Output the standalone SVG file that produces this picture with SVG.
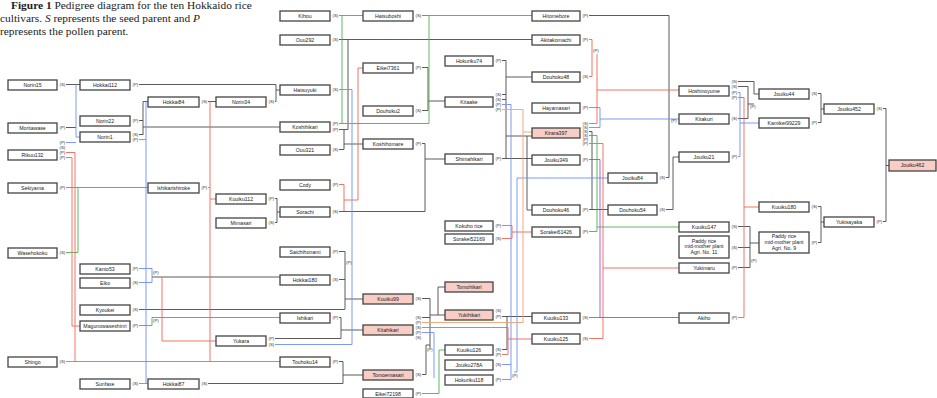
<svg xmlns="http://www.w3.org/2000/svg" width="937" height="398" viewBox="0 0 937 398">
<style>
.t{font-family:"Liberation Serif",serif;font-size:11.4px;fill:#222}
.n rect{fill:#fff;stroke:#444;stroke-width:1.3}
.n.pk rect{fill:#f7cdc5}
.n text{font-family:"Liberation Sans",Arial,sans-serif;font-size:5.2px;fill:#222;text-anchor:middle}
.n text.lb,.lb{font-family:"Liberation Sans",Arial,sans-serif;font-size:4.3px;fill:#333;text-anchor:start}
#connectors path{fill:none;stroke-width:0.9}
.g{stroke:#4a4a4a}.gr{stroke:#4cb050}.r{stroke:#ee6655}.b{stroke:#6d8ef0}.p{stroke:#9a55d5}.o{stroke:#f0a070}
</style>
<rect width="937" height="398" fill="#fff"/>
<text class="t" x="11" y="9"><tspan font-weight="bold">Figure 1</tspan> Pedigree diagram for the ten Hokkaido rice</text>
<text class="t" x="0" y="21.5">cultivars. <tspan font-style="italic">S</tspan> represents the seed parent and <tspan font-style="italic">P</tspan></text>
<text class="t" x="0" y="34.5">represents the pollen parent.</text>

<g id="connectors">
<path class="g" d="M66,84.5H80 M66,127.5H76 M139,120.5H143 M143,101.5V135 M143,101.5H148 M139,134.5H143 M143,127H280 M139,84.5H276V101.5H275 M276,90H280 M208,101.5H216 M275,198.5H277V222.5H275 M277,212H280 M339,129.5H348V39.5 M339,39.5H532 M344,129.5V149.5H339 M344,144H363 M339,211.5H425V143.5H422 M425,159H445 M422,67.5H428V110.5H422 M428,101H445 M502,60.5H506V158.5H502 M502,94.5H506 M502,99.5H506 M506,77H532 M506,136H532 M506,158.5H532 M527,136V210H532 M339,279.5H345 M339,251.5H345V309 M345,299H363 M139,309.5H345 M152,277H280 M275,338.5H341V317.5H339 M341,330H363 M339,361.5H343V383.5H208 M343,375H363 M422,298.5H430V348 M430,315H445 M438,315V287H445 M422,317.5H430 M422,374.5H426V345H430 M502,316.5H532 M507,316.5V349.5H502 M589,15.5H669V177.5H666 M666,209.5H673V157H679 M589,209.5H608 M589,131.5H592V209.5 M738,81.5H754V94H759 M738,86.5H748V118.5H738 M748,104H754 M738,226.5H750V267.5H738 M738,247.5H750 M750,243H759 M818,93.5H821V122.5H818 M821,109H824 M818,206.5H821V242.5H818 M821,222H824 M883,108.5H886V221.5H883 M886,165.5H889"/>
<path class="gr" d="M66,187.5H148 M66,252.5H78V187.5 M139,325.5H152V317.5H280 M339,15.5H363 M339,123.5H429V15.5H422 M342,123.5V15.5 M422,15.5H532 M589,135.5H597V231.5H589 M597,227H679 M422,393.5H439V350H445"/>
<path class="r" d="M66,157.5H72V326H80 M66,152.5H75V361.5 M66,361.5H280 M210,101.5V361.5 M208,187.5H210 M210,199H216 M162,277V341H216 M339,184.5H344V211 M344,200H358V68H363 M589,39.5H592V76.5H589 M597,54V123.5H589 M597,90H679 M589,143.5H603V338.5H589 M603,268H679 M422,327.5H508V354.5H502 M508,339H532 M502,225.5H512V238.5H502 M512,232H532 M738,97.5H744V317.5H738 M744,207H759"/>
<path class="b" d="M76,84.5V137H80 M66,142.5H76 M139,139.5H146 M146,101.5V383.5 M139,383.5H148 M139,268.5H152V282.5H139 M339,89.5H352V344.5H275 M502,104.5H511V379.5H502 M502,364.5H511 M514,372H517V178H608 M589,107.5H600V127.5H589 M600,119H679 M738,92.5H740V156.5H738 M740,123H759 M422,332.5H434V378"/>
<path class="p" d="M589,159.5H600V317.5H589 M600,317.5H679"/>
<path class="o" d="M502,109.5H523V322.5H422 M523,132H532"/>
<text class="lb" x="153" y="274">(P)</text>
<text class="lb" x="153" y="322">(P)</text>
<text class="lb" x="346" y="264">(P)</text>
<text class="lb" x="593" y="52">(P)</text>
<text class="lb" x="671" y="122">(P)</text>
<text class="lb" x="750" y="108">(P)</text>
<text class="lb" x="751" y="262">(P)</text>
<text class="lb" x="512" y="377">(P)</text>
<text class="lb" x="427" y="351">(P)</text>
</g>

<g id="norin15" class="n"><rect x="8" y="80" width="49" height="10"/><text x="32.5" y="86.8">Norin15</text><text class="lb" x="59.5" y="86">(S)</text></g>
<g id="moritawase" class="n"><rect x="8" y="123" width="49" height="10"/><text x="32.5" y="129.8">Moritawase</text><text class="lb" x="59.5" y="129">(P)</text></g>
<g id="rikuu132" class="n"><rect x="8" y="150" width="49" height="10"/><text x="32.5" y="156.8">Rikuu132</text><text class="lb" x="59.5" y="144">(P)</text><text class="lb" x="59.5" y="149">(S)</text><text class="lb" x="59.5" y="154">(P)</text><text class="lb" x="59.5" y="159">(P)</text></g>
<g id="sekiyama" class="n"><rect x="8" y="183" width="49" height="10"/><text x="32.5" y="189.8">Sekiyama</text><text class="lb" x="59.5" y="189">(P)</text></g>
<g id="wasehokoku" class="n"><rect x="8" y="248" width="49" height="10"/><text x="32.5" y="254.8">Wasehokoku</text><text class="lb" x="59.5" y="254">(S)</text></g>
<g id="shingo" class="n"><rect x="8" y="357" width="49" height="10"/><text x="32.5" y="363.8">Shingo</text><text class="lb" x="59.5" y="363">(S)</text></g>

<g id="hokkai112" class="n"><rect x="80" y="80" width="50" height="10"/><text x="105" y="86.8">Hokkai112</text><text class="lb" x="132.5" y="86">(P)</text></g>
<g id="norin22" class="n"><rect x="80" y="116" width="50" height="10"/><text x="105" y="122.8">Norin22</text><text class="lb" x="132.5" y="122">(P)</text></g>
<g id="norin1" class="n"><rect x="80" y="132" width="50" height="10"/><text x="105" y="138.8">Norin1</text><text class="lb" x="132.5" y="136">(S)</text><text class="lb" x="132.5" y="141">(P)</text></g>
<g id="kanto53" class="n"><rect x="80" y="264" width="50" height="10"/><text x="105" y="270.8">Kanto53</text><text class="lb" x="132.5" y="270">(P)</text></g>
<g id="eiko" class="n"><rect x="80" y="278" width="50" height="10"/><text x="105" y="284.8">Eiko</text><text class="lb" x="132.5" y="284">(S)</text></g>
<g id="kyoukei" class="n"><rect x="80" y="305" width="50" height="10"/><text x="105" y="311.8">Kyoukei</text><text class="lb" x="132.5" y="311">(S)</text></g>
<g id="magunowase" class="n"><rect x="80" y="321" width="50" height="10"/><text x="105" y="327.8">Magunowaseshinri</text><text class="lb" x="132.5" y="327">(P)</text></g>
<g id="sunfaxe" class="n"><rect x="80" y="379" width="50" height="10"/><text x="105" y="385.8">Sunfaxe</text><text class="lb" x="132.5" y="385">(S)</text></g>

<g id="hokkai84" class="n"><rect x="148" y="97" width="51" height="10"/><text x="173.5" y="103.8">Hokkai84</text><text class="lb" x="201.5" y="103">(S)</text></g>
<g id="ishikarishiroke" class="n"><rect x="148" y="183" width="51" height="10"/><text x="173.5" y="189.8">Ishikarishiroke</text><text class="lb" x="201.5" y="189">(P)</text></g>
<g id="hokkai87" class="n"><rect x="148" y="379" width="51" height="10"/><text x="173.5" y="385.8">Hokkai87</text><text class="lb" x="201.5" y="385">(S)</text></g>

<g id="norin34" class="n"><rect x="216" y="97" width="50" height="10"/><text x="241" y="103.8">Norin34</text><text class="lb" x="268.5" y="103">(S)</text></g>
<g id="kuuiku112" class="n"><rect x="216" y="194" width="50" height="10"/><text x="241" y="200.8">Kuuiku112</text><text class="lb" x="268.5" y="200">(P)</text></g>
<g id="mimasari" class="n"><rect x="216" y="218" width="50" height="10"/><text x="241" y="224.8">Mimasari</text><text class="lb" x="268.5" y="224">(S)</text></g>
<g id="yukara" class="n"><rect x="216" y="336" width="50" height="10"/><text x="241" y="342.8">Yukara</text><text class="lb" x="268.5" y="340">(P)</text><text class="lb" x="268.5" y="346">(S)</text></g>

<g id="kihou" class="n"><rect x="280" y="11" width="50" height="10"/><text x="305" y="17.8">Kihou</text><text class="lb" x="332.5" y="17">(S)</text></g>
<g id="ouu292" class="n"><rect x="280" y="35" width="50" height="10"/><text x="305" y="41.8">Ouu292</text><text class="lb" x="332.5" y="41">(S)</text></g>
<g id="hatsuyuki" class="n"><rect x="280" y="85" width="50" height="10"/><text x="305" y="91.8">Hatsuyuki</text><text class="lb" x="332.5" y="91">(S)</text></g>
<g id="koshihikari" class="n"><rect x="280" y="122" width="50" height="10"/><text x="305" y="128.8">Koshihikari</text><text class="lb" x="332.5" y="125">(P)</text><text class="lb" x="332.5" y="131">(P)</text></g>
<g id="ouu321" class="n"><rect x="280" y="145" width="50" height="10"/><text x="305" y="151.8">Ouu321</text><text class="lb" x="332.5" y="151">(S)</text></g>
<g id="cody" class="n"><rect x="280" y="180" width="50" height="10"/><text x="305" y="186.8">Cody</text><text class="lb" x="332.5" y="186">(P)</text></g>
<g id="sorachi" class="n"><rect x="280" y="207" width="50" height="10"/><text x="305" y="213.8">Sorachi</text><text class="lb" x="332.5" y="213">(S)</text></g>
<g id="saichihonami" class="n"><rect x="280" y="247" width="50" height="10"/><text x="305" y="253.8">Saichihonami</text><text class="lb" x="332.5" y="253">(P)</text></g>
<g id="hokkai180" class="n"><rect x="280" y="275" width="50" height="10"/><text x="305" y="281.8">Hokkai180</text><text class="lb" x="332.5" y="281">(S)</text></g>
<g id="ishikari" class="n"><rect x="280" y="313" width="50" height="10"/><text x="305" y="319.8">Ishikari</text><text class="lb" x="332.5" y="319">(P)</text></g>
<g id="touhoku14" class="n"><rect x="280" y="357" width="50" height="10"/><text x="305" y="363.8">Touhoku14</text><text class="lb" x="332.5" y="363">(P)</text></g>

<g id="hatsuboshi" class="n"><rect x="363" y="11" width="50" height="10"/><text x="388" y="17.8">Hatsuboshi</text><text class="lb" x="415.5" y="17">(S)</text></g>
<g id="eikei7361" class="n"><rect x="363" y="63" width="50" height="10"/><text x="388" y="69.8">Eikei7361</text><text class="lb" x="415.5" y="69">(P)</text></g>
<g id="douhoku2" class="n"><rect x="363" y="106" width="50" height="10"/><text x="388" y="112.8">Douhoku2</text><text class="lb" x="415.5" y="112">(S)</text></g>
<g id="koshihomare" class="n"><rect x="363" y="139" width="50" height="10"/><text x="388" y="145.8">Koshihomare</text><text class="lb" x="415.5" y="145">(P)</text></g>
<g id="kuuiku99" class="n pk"><rect x="363" y="294" width="50" height="10"/><text x="388" y="300.8">Kuuiku99</text><text class="lb" x="415.5" y="300">(S)</text></g>
<g id="kitahikari" class="n pk"><rect x="363" y="325" width="50" height="10"/><text x="388" y="331.8">Kitahikari</text><text class="lb" x="415.5" y="319">(S)</text><text class="lb" x="415.5" y="324">(P)</text><text class="lb" x="415.5" y="329">(S)</text><text class="lb" x="415.5" y="334">(P)</text><text class="lb" x="415.5" y="339">(S)</text></g>
<g id="tomoemasari" class="n pk"><rect x="363" y="370" width="50" height="10"/><text x="388" y="376.8">Tomoemasari</text><text class="lb" x="415.5" y="376">(S)</text></g>
<g id="eikei72198" class="n"><rect x="363" y="389" width="50" height="9"/><text x="388" y="395.5">Eikei72198</text><text class="lb" x="415.5" y="395">(P)</text></g>

<g id="hokuriku74" class="n"><rect x="445" y="56" width="48" height="10"/><text x="469" y="62.8">Hokuriku74</text><text class="lb" x="495.5" y="62">(P)</text></g>
<g id="kitaake" class="n"><rect x="445" y="97" width="48" height="10"/><text x="469" y="103.8">Kitaake</text><text class="lb" x="495.5" y="96">(S)</text><text class="lb" x="495.5" y="101">(S)</text><text class="lb" x="495.5" y="106">(P)</text><text class="lb" x="495.5" y="111">(P)</text></g>
<g id="shimahikari" class="n"><rect x="445" y="154" width="48" height="10"/><text x="469" y="160.8">Shimahikari</text><text class="lb" x="495.5" y="160">(P)</text></g>
<g id="kokuho" class="n"><rect x="445" y="221" width="48" height="10"/><text x="469" y="227.8">Kokuho rice</text><text class="lb" x="495.5" y="227">(P)</text></g>
<g id="sorakei52169" class="n"><rect x="445" y="234" width="48" height="10"/><text x="469" y="240.8">Sorakei52169</text><text class="lb" x="495.5" y="240">(S)</text></g>
<g id="tomohikari" class="n pk"><rect x="445" y="282" width="48" height="10"/><text x="469" y="288.8">Tomohikari</text></g>
<g id="yukihikari" class="n pk"><rect x="445" y="310" width="48" height="10"/><text x="469" y="316.8">Yukihikari</text><text class="lb" x="495.5" y="312">(S)</text><text class="lb" x="495.5" y="318">(P)</text></g>
<g id="kuuiku126" class="n"><rect x="445" y="345" width="48" height="10"/><text x="469" y="351.8">Kuuiku126</text><text class="lb" x="495.5" y="351">(S)</text><text class="lb" x="495.5" y="356">(P)</text></g>
<g id="jouiku278a" class="n"><rect x="445" y="360" width="48" height="10"/><text x="469" y="366.8">Jouiku278A</text><text class="lb" x="495.5" y="366">(S)</text></g>
<g id="hokuriku118" class="n"><rect x="445" y="375" width="48" height="10"/><text x="469" y="381.8">Hokuriku118</text><text class="lb" x="495.5" y="381">(P)</text></g>

<g id="hitomebore" class="n"><rect x="532" y="11" width="48" height="10"/><text x="556" y="17.8">Hitomebore</text><text class="lb" x="582.5" y="17">(P)</text></g>
<g id="akitakomachi" class="n"><rect x="532" y="35" width="48" height="10"/><text x="556" y="41.8">Akitakomachi</text><text class="lb" x="582.5" y="41">(P)</text></g>
<g id="douhoku48" class="n"><rect x="532" y="72" width="48" height="10"/><text x="556" y="78.8">Douhoku48</text><text class="lb" x="582.5" y="78">(S)</text></g>
<g id="hayamasari" class="n"><rect x="532" y="103" width="48" height="10"/><text x="556" y="109.8">Hayamasari</text><text class="lb" x="582.5" y="109">(P)</text></g>
<g id="kirara397" class="n pk"><rect x="532" y="128" width="48" height="10"/><text x="556" y="134.8">Kirara397</text><text class="lb" x="582.5" y="125">(S)</text><text class="lb" x="582.5" y="129">(S)</text><text class="lb" x="582.5" y="133">(S)</text><text class="lb" x="582.5" y="137">(S)</text><text class="lb" x="582.5" y="141">(P)</text><text class="lb" x="582.5" y="145">(P)</text></g>
<g id="jouiku349" class="n"><rect x="532" y="155" width="48" height="10"/><text x="556" y="161.8">Jouiku349</text><text class="lb" x="582.5" y="161">(P)</text></g>
<g id="douhoku46" class="n"><rect x="532" y="205" width="48" height="10"/><text x="556" y="211.8">Douhoku46</text><text class="lb" x="582.5" y="211">(P)</text></g>
<g id="sorakei61426" class="n"><rect x="532" y="227" width="48" height="10"/><text x="556" y="233.8">Sorakei61426</text><text class="lb" x="582.5" y="233">(P)</text></g>
<g id="kuuiku133" class="n"><rect x="532" y="313" width="48" height="10"/><text x="556" y="319.8">Kuuiku133</text><text class="lb" x="582.5" y="319">(S)</text></g>
<g id="kuuiku125" class="n"><rect x="532" y="334" width="48" height="10"/><text x="556" y="340.8">Kuuiku125</text><text class="lb" x="582.5" y="340">(S)</text></g>

<g id="jouiku84" class="n"><rect x="608" y="173" width="49" height="10"/><text x="632.5" y="179.8">Jouiku84</text><text class="lb" x="659.5" y="179">(S)</text></g>
<g id="douhoku54" class="n"><rect x="608" y="205" width="49" height="10"/><text x="632.5" y="211.8">Douhoku54</text><text class="lb" x="659.5" y="211">(S)</text></g>

<g id="hoshinoyume" class="n"><rect x="679" y="86" width="50" height="10"/><text x="704" y="92.8">Hoshinoyume</text><text class="lb" x="731.5" y="83">(S)</text><text class="lb" x="731.5" y="88">(S)</text><text class="lb" x="731.5" y="94">(P)</text><text class="lb" x="731.5" y="99">(P)</text></g>
<g id="kitakuri" class="n"><rect x="679" y="114" width="50" height="10"/><text x="704" y="120.8">Kitakuri</text><text class="lb" x="731.5" y="120">(S)</text></g>
<g id="jouiku21" class="n"><rect x="679" y="152" width="50" height="10"/><text x="704" y="158.8">Jouiku21</text><text class="lb" x="731.5" y="158">(P)</text></g>
<g id="kuuiku147" class="n"><rect x="679" y="222" width="50" height="10"/><text x="704" y="228.8">Kuuiku147</text><text class="lb" x="731.5" y="228">(S)</text></g>
<g id="paddy11" class="n"><rect x="679" y="236" width="50" height="22"/><text x="704" y="242.5">Paddy rice</text><text x="704" y="248.3">mid-mother plant</text><text x="704" y="254.1">Agri. No. 11</text><text class="lb" x="731.5" y="249">(S)</text></g>
<g id="yukimaru" class="n"><rect x="679" y="263" width="50" height="10"/><text x="704" y="269.8">Yukimaru</text><text class="lb" x="731.5" y="269">(P)</text></g>
<g id="akiho" class="n"><rect x="679" y="313" width="50" height="10"/><text x="704" y="319.8">Akiho</text><text class="lb" x="731.5" y="319">(P)</text></g>

<g id="jouiku44" class="n"><rect x="759" y="89" width="50" height="10"/><text x="784" y="95.8">Jouiku44</text><text class="lb" x="811.5" y="95">(S)</text></g>
<g id="kamikei99229" class="n"><rect x="759" y="118" width="50" height="10"/><text x="784" y="124.8">Kamikei99229</text><text class="lb" x="811.5" y="124">(P)</text></g>
<g id="kuuiku180" class="n"><rect x="759" y="202" width="50" height="10"/><text x="784" y="208.8">Kuuiku180</text><text class="lb" x="811.5" y="208">(S)</text></g>
<g id="paddy9" class="n"><rect x="759" y="232" width="50" height="21"/><text x="784" y="238.3">Paddy rice</text><text x="784" y="244">mid-mother plant</text><text x="784" y="249.7">Agri. No. 9</text><text class="lb" x="811.5" y="244">(P)</text></g>

<g id="jouiku452" class="n"><rect x="824" y="104" width="50" height="10"/><text x="849" y="110.8">Jouiku452</text><text class="lb" x="876.5" y="110">(S)</text></g>
<g id="yukisayaka" class="n"><rect x="824" y="217" width="50" height="10"/><text x="849" y="223.8">Yukisayaka</text><text class="lb" x="876.5" y="223">(P)</text></g>

<g id="jouiku462" class="n pk"><rect x="889" y="160" width="47" height="11"/><text x="912.5" y="167.3">Jouiku462</text></g>
</svg>
